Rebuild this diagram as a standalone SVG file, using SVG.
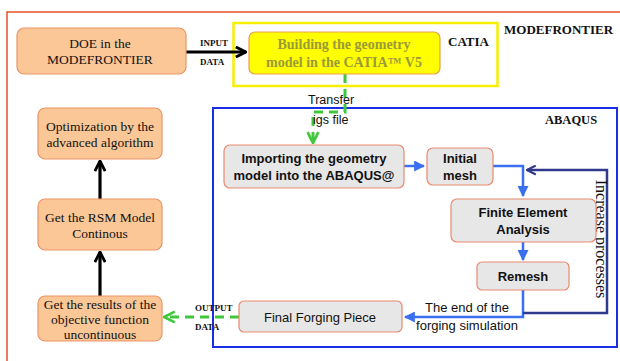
<svg xmlns="http://www.w3.org/2000/svg" width="620" height="361" viewBox="0 0 620 361">
<defs>
<style>
.serif{font-family:"Liberation Serif","Times New Roman",serif}
.sans{font-family:"Liberation Sans",Arial,sans-serif}
.orange{fill:#fbc796;stroke:#ec9466;stroke-width:1.2}
.gray{fill:#e7e7e7;stroke:#e98a6e;stroke-width:1.2}
.t13{font-size:13.5px;fill:#111;text-anchor:middle}
.b13{font-size:13px;font-weight:bold;fill:#111;text-anchor:middle}
.lab{font-size:9px;font-weight:bold;fill:#111}
.blue{stroke:#3a6ff0;stroke-width:2.5;fill:none}
.navy{stroke:#2f3a8f;stroke-width:2.5;fill:none}
.green{stroke:#3ec83a;stroke-width:3;fill:none;stroke-dasharray:9 6}
.black{stroke:#000;stroke-width:3.2;fill:none}
</style>
<marker id="ab" viewBox="0 0 10 10" refX="9" refY="5" markerWidth="4" markerHeight="4" orient="auto"><path d="M1,1 L9,5 L1,9" fill="none" stroke="#000" stroke-width="2.2"/></marker>
<marker id="ag" viewBox="0 0 10 10" refX="9" refY="5" markerWidth="4.5" markerHeight="4.5" orient="auto"><path d="M1,1 L9,5 L1,9" fill="none" stroke="#3ec83a" stroke-width="2"/></marker>
<marker id="abl" viewBox="0 0 10 10" refX="9" refY="5" markerWidth="4.4" markerHeight="4.4" orient="auto"><path d="M0,0 L10,5 L0,10 Z" fill="#3a6ff0"/></marker>
<marker id="anv" viewBox="0 0 10 10" refX="9" refY="5" markerWidth="4.4" markerHeight="4.4" orient="auto"><path d="M1,1 L9,5 L1,9" fill="none" stroke="#2f3a8f" stroke-width="2"/></marker>
</defs>
<rect width="620" height="361" fill="#fff"/>
<rect x="7" y="12" width="640" height="380" fill="none" stroke="#e8502a" stroke-width="1.5"/>
<g id="catia-frame">
<rect x="233.5" y="23" width="264" height="63" fill="none" stroke="#f5f000" stroke-width="2.5"/>
<text x="448" y="46" class="serif" font-size="13" font-weight="bold" fill="#111">CATIA</text>
</g>
<text x="504" y="34" class="serif" font-size="13" font-weight="bold" fill="#111">MODEFRONTIER</text>
<g id="abaqus-frame">
<rect x="213" y="108" width="404" height="239" fill="none" stroke="#1a2ee6" stroke-width="2"/>
<text x="545" y="124" class="serif" font-size="12.5" font-weight="bold" fill="#111">ABAQUS</text>
</g>
<g id="connectors">
<path class="black" d="M186,52 H246" marker-end="url(#ab)"/>
<path class="black" d="M100,199 V161" marker-end="url(#ab)"/>
<path class="black" d="M100,296 V252" marker-end="url(#ab)"/>
<path class="green" d="M345,74 V112 H313 V143" marker-end="url(#ag)"/>
<path class="green" d="M239,317 H164" marker-end="url(#ag)"/>
<path class="blue" d="M404,166 H424" marker-end="url(#abl)"/>
<path class="blue" d="M493,166 H523 V196" marker-end="url(#abl)"/>
<path class="blue" d="M523,242 V260" marker-end="url(#abl)"/>
<path class="blue" d="M523,290 V317 H405" marker-end="url(#abl)"/>
<path class="navy" d="M523,313 H607 V170 H527" marker-end="url(#anv)"/>
<text x="200" y="46" class="serif lab">INPUT</text>
<text x="200" y="65" class="serif lab">DATA</text>
<text x="195" y="311" class="serif lab">OUTPUT</text>
<text x="195" y="330" class="serif lab">DATA</text>
<text x="308" y="104" class="sans" font-size="12.5" fill="#111">Transfer</text>
<text x="313" y="124" class="sans" font-size="12.5" fill="#111">igs file</text>
<text x="467" y="312" class="sans" font-size="13" fill="#111" text-anchor="middle">The end of the</text>
<text x="467" y="330" class="sans" font-size="13" fill="#111" text-anchor="middle">forging simulation</text>
<text transform="translate(596,239) rotate(90)" class="serif" font-size="16" fill="#111" text-anchor="middle">Increase processes</text>
</g>
<g id="doe">
<rect x="17" y="28" width="169" height="46" rx="7" class="orange"/>
<text x="100" y="48" class="serif t13">DOE in the</text>
<text x="100" y="64" class="serif t13">MODEFRONTIER</text>
</g>
<g id="catia-build">
<rect x="249" y="32" width="191" height="42" rx="6" fill="#ffff00" stroke="#e8a050" stroke-width="1.2"/>
<text x="344" y="49" class="serif" font-size="14" font-weight="bold" fill="#9b9a3a" text-anchor="middle">Building  the geometry</text>
<text x="344" y="67" class="serif" font-size="14" font-weight="bold" fill="#9b9a3a" text-anchor="middle">model in the CATIA™ V5</text>
</g>
<g id="optimization">
<rect x="38" y="108" width="124" height="51" rx="7" class="orange"/>
<text x="100" y="131" class="serif t13">Optimization by the</text>
<text x="100" y="147" class="serif t13">advanced algorithm</text>
</g>
<g id="rsm">
<rect x="38" y="199" width="124" height="51" rx="7" class="orange"/>
<text x="100" y="222" class="serif t13">Get the RSM Model</text>
<text x="100" y="238" class="serif t13">Continous</text>
</g>
<g id="results">
<rect x="38" y="296" width="124" height="45" rx="7" class="orange"/>
<text x="100" y="309" class="serif t13">Get the results of the</text>
<text x="100" y="324" class="serif t13">objective function</text>
<text x="100" y="339" class="serif t13">uncontinuous</text>
</g>
<g id="importing">
<rect x="224" y="145" width="180" height="43" rx="6" class="gray"/>
<text x="314" y="163" class="sans b13">Importing the geometry</text>
<text x="314" y="180" class="sans b13">model into the ABAQUS@</text>
</g>
<g id="initial-mesh">
<rect x="427" y="148" width="66" height="37" rx="6" class="gray"/>
<text x="460" y="163" class="sans b13">Initial</text>
<text x="460" y="180" class="sans b13">mesh</text>
</g>
<g id="fea">
<rect x="451" y="199" width="145" height="43" rx="6" class="gray"/>
<text x="523" y="217" class="sans b13">Finite Element</text>
<text x="523" y="234" class="sans b13">Analysis</text>
</g>
<g id="remesh">
<rect x="477" y="262" width="92" height="28" rx="5" class="gray"/>
<text x="523" y="281" class="sans b13">Remesh</text>
</g>
<g id="final-forging">
<rect x="239" y="301" width="163" height="31" rx="5" class="gray"/>
<text x="320" y="322" class="sans" font-size="13" fill="#111" text-anchor="middle">Final Forging Piece</text>
</g>
</svg>
